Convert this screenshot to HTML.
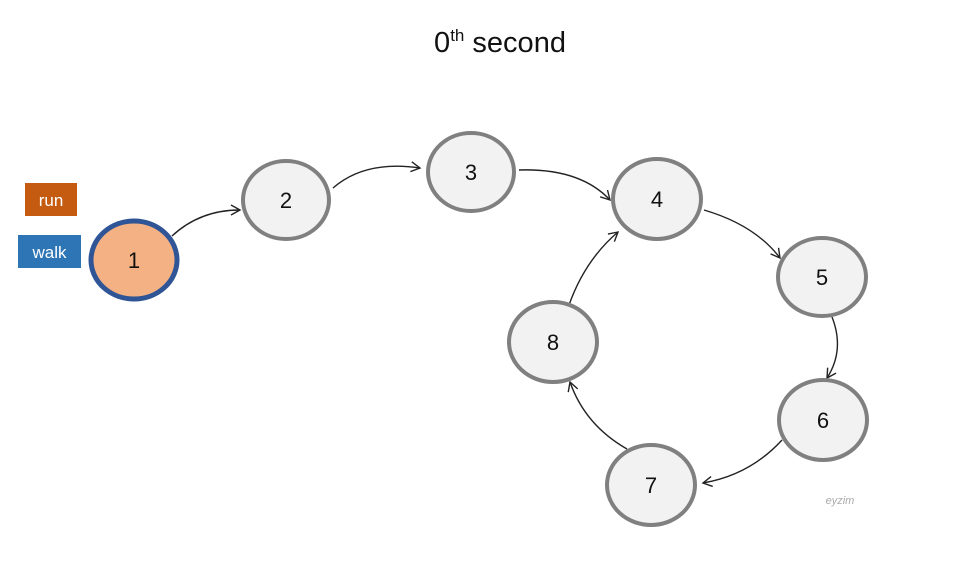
<!DOCTYPE html>
<html><head><style>
body{margin:0;background:#fff;}
svg{display:block;}
text{font-family:"Liberation Sans","DejaVu Sans",sans-serif;}
</style></head><body>
<svg width="960" height="564" viewBox="0 0 960 564" xmlns="http://www.w3.org/2000/svg">
<defs>
<marker id="a" markerWidth="12" markerHeight="12" refX="10" refY="6" orient="auto" markerUnits="userSpaceOnUse">
<path d="M1,1 L10,6 L1,11" fill="none" stroke="#222" stroke-width="1.4"/>
</marker>
</defs>
<text x="500" y="52" font-size="29" text-anchor="middle" fill="#111">0<tspan font-size="17" dy="-11">th</tspan><tspan dy="11"> second</tspan></text>
<rect x="25" y="183" width="52" height="33" fill="#c55a11"/>
<text x="51" y="206" font-size="17" fill="#fff" text-anchor="middle">run</text>
<rect x="18" y="235" width="63" height="33" fill="#2e75b6"/>
<text x="49.5" y="258" font-size="17" fill="#fff" text-anchor="middle">walk</text>
<g fill="none" stroke="#222" stroke-width="1.4" marker-end="url(#a)">
<path d="M172,236 Q200,210 240,210"/>
<path d="M333,188 Q365,160 420,168"/>
<path d="M519,170 Q580,168 610,200"/>
<path d="M704,210 Q755,225 780,258"/>
<path d="M832,317 Q845,350 827,378"/>
<path d="M782,440 Q750,475 703,483"/>
<path d="M627,449 Q585,425 570,382"/>
<path d="M569,305 Q585,260 618,232"/>
</g>
<ellipse cx="134" cy="260" rx="43" ry="39" fill="#f4b183" stroke="#2f5597" stroke-width="5"/>
<g fill="#f2f2f2" stroke="#808080" stroke-width="4">
<ellipse cx="286" cy="200" rx="43" ry="39"/>
<ellipse cx="471" cy="172" rx="43" ry="39"/>
<ellipse cx="657" cy="199" rx="44" ry="40"/>
<ellipse cx="822" cy="277" rx="44" ry="39"/>
<ellipse cx="823" cy="420" rx="44" ry="40"/>
<ellipse cx="651" cy="485" rx="44" ry="40"/>
<ellipse cx="553" cy="342" rx="44" ry="40"/>
</g>
<g font-size="22" fill="#111" text-anchor="middle">
<text x="134" y="268">1</text>
<text x="286" y="208">2</text>
<text x="471" y="180">3</text>
<text x="657" y="207">4</text>
<text x="822" y="285">5</text>
<text x="823" y="428">6</text>
<text x="651" y="493">7</text>
<text x="553" y="350">8</text>
</g>
<text x="840" y="504" font-size="11" font-style="italic" fill="#aaa" text-anchor="middle">eyzim</text>
</svg>
</body></html>
